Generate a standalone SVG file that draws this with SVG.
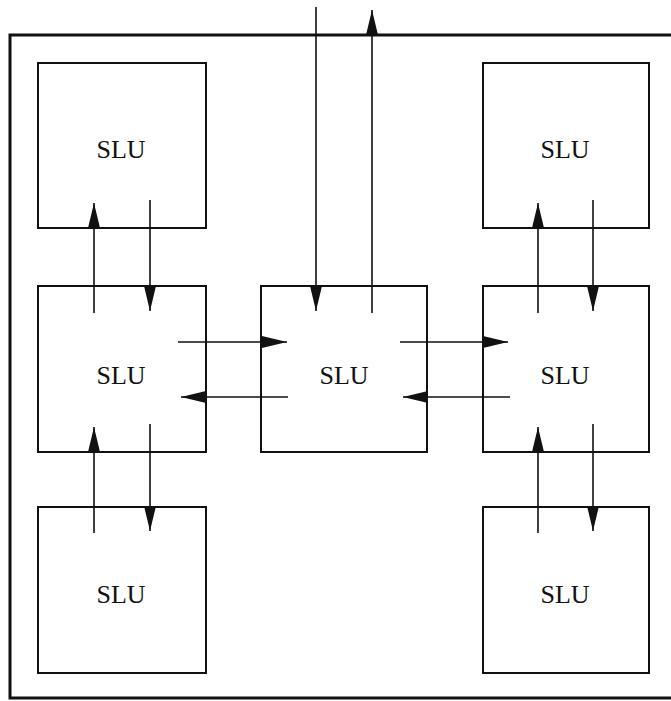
<svg xmlns="http://www.w3.org/2000/svg" width="671" height="701" viewBox="0 0 671 701">
<style>
.box{fill:none;stroke:#111;stroke-width:2}
.lbl{font-family:"Liberation Serif","Times New Roman",serif;font-size:26px;fill:#111;text-anchor:middle}
.c{stroke:#111;stroke-width:1.6;fill:none;marker-end:url(#ah)}
</style>
<defs>
<marker id="ah" viewBox="0 0 25 12" markerWidth="25" markerHeight="12" refX="25" refY="6" orient="auto" markerUnits="userSpaceOnUse">
<path d="M0,0 L25,6 L0,12 z" fill="#111"/>
</marker>
</defs>
<rect width="671" height="701" fill="#fff"/>
<path id="frame" d="M671,35 L10,35 L10,698 L671,698" fill="none" stroke="#111" stroke-width="3"/>
<g id="slu-tl"><rect class="box" x="38" y="63" width="168" height="165"/><text class="lbl" x="121" y="158">SLU</text></g>
<g id="slu-tr"><rect class="box" x="483" y="63" width="166" height="165"/><text class="lbl" x="565" y="158">SLU</text></g>
<g id="slu-ml"><rect class="box" x="38" y="286" width="168" height="166"/><text class="lbl" x="121" y="384">SLU</text></g>
<g id="slu-c"><rect class="box" x="261" y="286" width="166" height="166"/><text class="lbl" x="344" y="384">SLU</text></g>
<g id="slu-mr"><rect class="box" x="483" y="286" width="166" height="166"/><text class="lbl" x="565" y="384">SLU</text></g>
<g id="slu-bl"><rect class="box" x="38" y="507" width="168" height="166"/><text class="lbl" x="121" y="603">SLU</text></g>
<g id="slu-br"><rect class="box" x="483" y="507" width="166" height="166"/><text class="lbl" x="565" y="603">SLU</text></g>
<g id="connectors">
<line class="c" x1="316" y1="7" x2="316" y2="311"/>
<line class="c" x1="372" y1="313" x2="372" y2="10"/>
<line class="c" x1="94" y1="313" x2="94" y2="203"/>
<line class="c" x1="150" y1="200" x2="150" y2="311"/>
<line class="c" x1="538" y1="313" x2="538" y2="203"/>
<line class="c" x1="593" y1="200" x2="593" y2="311"/>
<line class="c" x1="94" y1="533" x2="94" y2="427"/>
<line class="c" x1="150" y1="424" x2="150" y2="531"/>
<line class="c" x1="538" y1="533" x2="538" y2="427"/>
<line class="c" x1="593" y1="424" x2="593" y2="531"/>
<line class="c" x1="178" y1="342" x2="287" y2="342"/>
<line class="c" x1="400" y1="342" x2="508" y2="342"/>
<line class="c" x1="288" y1="397" x2="181" y2="397"/>
<line class="c" x1="510" y1="397" x2="403" y2="397"/>
</g>
</svg>
